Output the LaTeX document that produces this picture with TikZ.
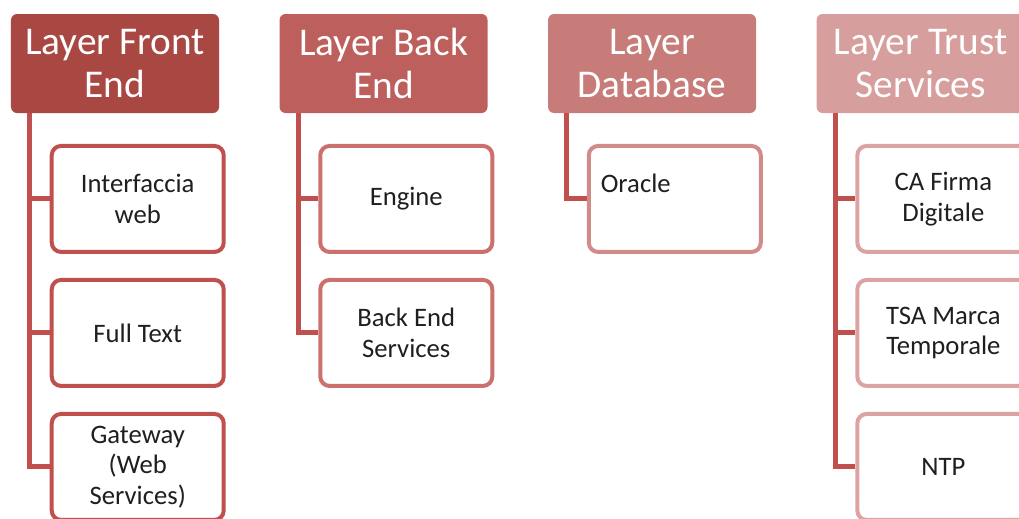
\documentclass[tikz,border=0pt]{standalone}
\usepackage{fontspec}
\setmainfont{Carlito}
\usetikzlibrary{positioning}
\definecolor{hdA}{HTML}{A94743}
\definecolor{hdB}{HTML}{BD5F5C}
\definecolor{hdC}{HTML}{C87C7A}
\definecolor{hdD}{HTML}{D69E9D}
\definecolor{bdA}{HTML}{C0504D}
\definecolor{bdB}{HTML}{CC706D}
\definecolor{bdC}{HTML}{D38B89}
\definecolor{bdD}{HTML}{DBA3A2}
\definecolor{linkred}{HTML}{C0504D}
\definecolor{ink}{HTML}{1F1F1F}
\tikzset{
  layer/.style={fill=#1,rounded corners=4.5pt,text=white,align=flush center,
    font=\fontsize{29.5}{32}\selectfont,minimum width=156pt,minimum height=74.25pt,
    inner sep=0pt},
  item/.style={draw=#1,fill=white,line width=3pt,rounded corners=7pt,text=ink,
    align=flush center,font=\fontsize{20}{23}\selectfont,text width=112pt,
    minimum width=129pt,minimum height=79.5pt,inner sep=0pt},
  itemleft/.style={item=#1,align=flush left,text width=111pt}, % text sits top left
  link/.style={draw=linkred,line width=3.75pt},
}

\begin{document}
\begin{tikzpicture}[node distance=18pt and 45pt]
  \clip (-86.25pt,-340.875pt) rectangle (678pt,47.625pt);
  % the four layers
  \node[layer=hdA](fe){Layer Front\\End};
  \node[layer=hdB,right=of fe](be){Layer Back\\End};
  \node[layer=hdC,right=of be](db){Layer\\Database};
  \node[layer=hdD,right=of db](ts){Layer Trust\\Services};
  % front end
  \node[item=bdA,below right=23pt and 29.25pt of fe.south west](web){Interfaccia\\web};
  \node[item=bdA,below=of web](ft){Full Text};
  \node[item=bdA,below=of ft](gw){Gateway\\(Web\\Services)};
  \draw[link]([xshift=14.25pt]fe.south west)|-(web.west);
  \draw[link]([xshift=14.25pt]fe.south west)|-(ft.west);
  \draw[link]([xshift=14.25pt]fe.south west)|-(gw.west);
  % back end
  \node[item=bdB,below right=23pt and 29.25pt of be.south west](eng){Engine};
  \node[item=bdB,below=of eng](bes){Back End\\Services};
  \draw[link]([xshift=14.25pt]be.south west)|-(eng.west);
  \draw[link]([xshift=14.25pt]be.south west)|-(bes.west);
  % database
  \node[itemleft=bdC,below right=23pt and 29.25pt of db.south west](ora){Oracle\\~};
  \draw[link]([xshift=14.25pt]db.south west)|-(ora.west);
  % trust services
  \node[item=bdD,below right=23pt and 29.25pt of ts.south west](ca){CA Firma\\Digitale};
  \node[item=bdD,below=of ca](tsa){TSA Marca\\Temporale};
  \node[item=bdD,below=of tsa](ntp){NTP};
  \draw[link]([xshift=14.25pt]ts.south west)|-(ca.west);
  \draw[link]([xshift=14.25pt]ts.south west)|-(tsa.west);
  \draw[link]([xshift=14.25pt]ts.south west)|-(ntp.west);
\end{tikzpicture}
\end{document}
